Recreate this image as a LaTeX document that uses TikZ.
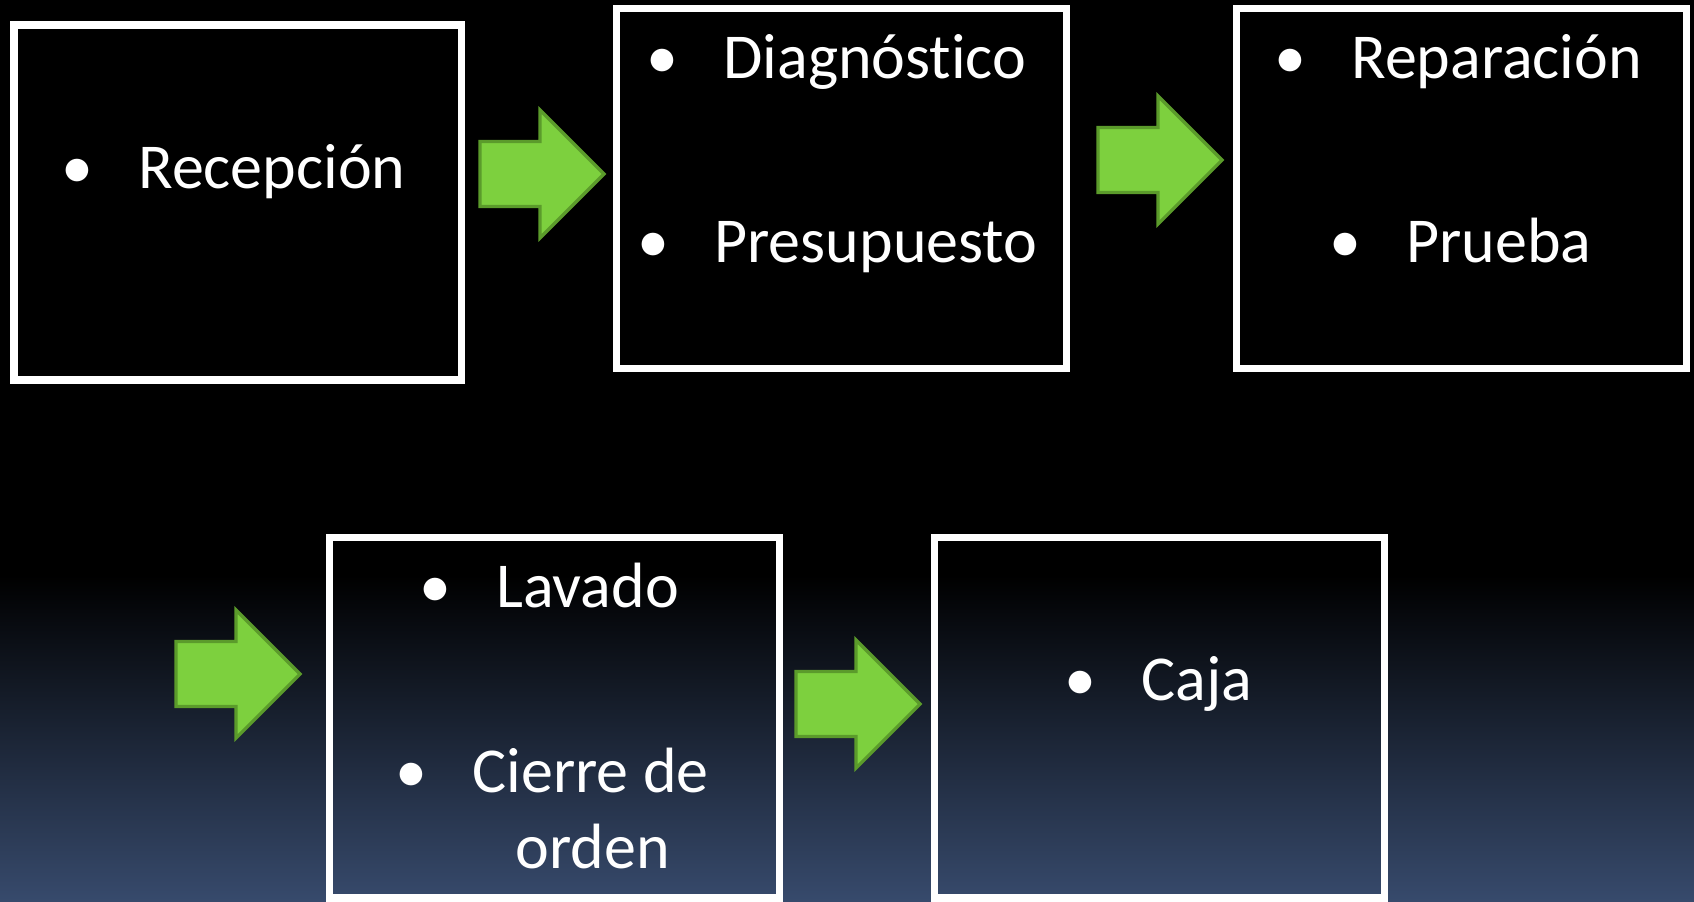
\documentclass[tikz,border=0pt]{standalone}
\usepackage{fontspec}
\setmainfont{Carlito}[Ligatures=NoCommon]
\definecolor{bgbot}{HTML}{374A6C}
\definecolor{arrfill}{HTML}{7DD03E}
\definecolor{arrline}{HTML}{5B9B2B}
\newcommand{\bul}{\makebox[0pt][c]{•}\hspace{30.5pt}}
\tikzset{
  boxst/.style={draw=white, line width=3.75pt, inner sep=0pt, minimum width=225pt, minimum height=180pt},
  txt/.style={anchor=base west, inner sep=0pt, text=white, font=\fontsize{32}{38}\selectfont},
  blockarrow/.pic={
    \draw[fill=arrfill, draw=arrline, line width=1.6pt, line join=miter]
      (0,-32.5) -- (60,-32.5) -- (60,-64) -- (124,0) -- (60,64) -- (60,32.5) -- (0,32.5) -- cycle;
  }
}
\begin{document}
\begin{tikzpicture}[x=0.5pt, y=-0.5pt]
  \useasboundingbox (0,0) rectangle (1694,901);
  % background
  \fill[black] (0,0) rectangle (1694,576);
  \shade[top color=black, bottom color=bgbot] (0,575) rectangle (1694,901);

  % boxes
  \node[boxst, minimum width=223.75pt, minimum height=177.5pt] (b1) at (237.75,202.5) {};
  \node[boxst] (b2) at (841.5,188.5) {};
  \node[boxst] (b3) at (1461.5,188.5) {};
  \node[boxst, minimum height=180.25pt] (b4) at (554.5,717.75) {};
  \node[boxst, minimum height=180.25pt] (b5) at (1159.5,717.75) {};

  % block arrows
  \pic (a1) at (480,174) {blockarrow};
  \pic (a2) at (1098,160) {blockarrow};
  \pic (a3) at (176,674) {blockarrow};
  \pic (a4) at (796,704) {blockarrow};

  % texts
  \node[txt] (t1) at (77,188) {\bul Recepción};
  \node[txt] (t2) at (662,78) {\bul Diagnóstico};
  \node[txt] (t3) at (653,262) {\bul Presupuesto};
  \node[txt] (t4) at (1290,78) {\bul Reparación};
  \node[txt] (t5) at (1345,262) {\bul Prueba};
  \node[txt] (t6) at (435,607) {\bul Lavado};
  \node[txt] (t7) at (411,792) {\bul Cierre de};
  \node[txt] (t8) at (515,868) {orden};
  \node[txt] (t9) at (1080,700) {\bul Caja};
\end{tikzpicture}
\end{document}
